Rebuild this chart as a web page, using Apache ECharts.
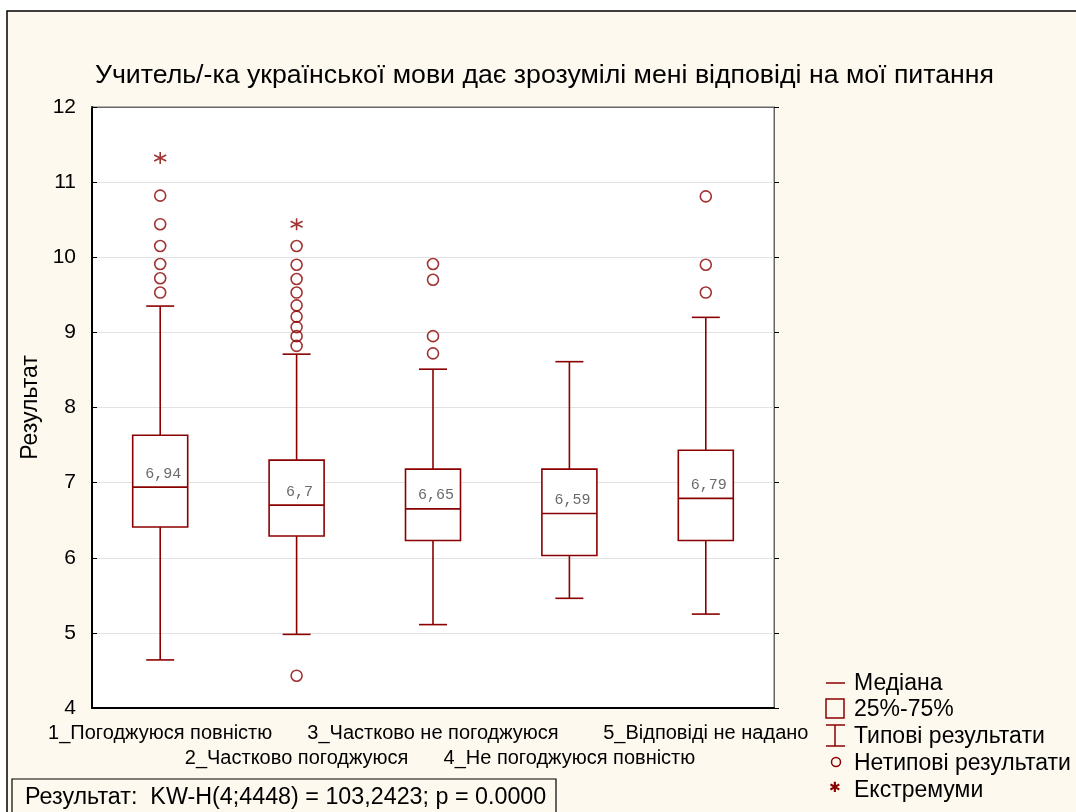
<!DOCTYPE html>
<html>
    <head>
        <meta charset="utf-8">
        <style>
            html, body { margin: 0; padding: 0; background: #fff; }
        </style>
    </head>
    <body>
        <div id="main" style="width:1076px;height:812px"></div>
        <script src="https://cdn.jsdelivr.net/npm/echarts@6/dist/echarts.min.js"></script>
        <script type="text/javascript">
            // categories and box stats
            var categories = ['1_Погоджуюся повністю', '2_Частково погоджуюся', '3_Частково не погоджуюся',
                '4_Не погоджуюся повністю', '5_Відповіді не надано']
            var whiskerLow = [4.64, 4.98, 5.11, 5.46, 5.25]
            var q1 = [6.41, 6.29, 6.23, 6.03, 6.23]
            var medians = [6.94, 6.7, 6.65, 6.59, 6.79]
            var q3 = [7.63, 7.30, 7.18, 7.18, 7.43]
            var whiskerHigh = [9.35, 8.71, 8.51, 8.61, 9.20]
            var outliers = [
                [10.82, 10.44, 10.15, 9.91, 9.72, 9.53],
                [10.15, 9.90, 9.71, 9.53, 9.36, 9.21, 9.07, 8.95, 8.82, 4.43],
                [9.91, 9.70, 8.95, 8.72],
                [],
                [10.81, 9.90, 9.53]
            ]
            var extremes = [[11.32], [10.44], [], [], []]
            var yTicks = [4, 5, 6, 7, 8, 9, 10, 11, 12]

            var red = '#8b0000'
            var cream = '#fef9ef'
            var font = 'Liberation Sans, Arial, sans-serif'
            var starPath = 'path://M0,-6L0,6M-5.2,-3L5.2,3M-5.2,3L5.2,-3'

            var boxData = categories.map(function (c, i) {
                return [i, whiskerLow[i], q1[i], medians[i], q3[i], whiskerHigh[i]]
            })
            var outlierData = []
            outliers.forEach(function (list, i) {
                list.forEach(function (v) { outlierData.push([i, v]) })
            })
            var extremeData = []
            extremes.forEach(function (list, i) {
                list.forEach(function (v) { extremeData.push([i, v]) })
            })

            function renderBox(params, api) {
                var i = api.value(0)
                var lo = api.coord([i, api.value(1)])
                var b1 = api.coord([i, api.value(2)])
                var md = api.coord([i, api.value(3)])
                var b3 = api.coord([i, api.value(4)])
                var hi = api.coord([i, api.value(5)])
                var x = lo[0], hw = 27.5, cw = 14
                var st = { stroke: red, lineWidth: 1.6, fill: null }
                return {
                    type: 'group',
                    children: [
                        { type: 'line', shape: { x1: x, y1: hi[1], x2: x, y2: b3[1] }, style: st },
                        { type: 'line', shape: { x1: x, y1: b1[1], x2: x, y2: lo[1] }, style: st },
                        { type: 'line', shape: { x1: x - cw, y1: hi[1], x2: x + cw, y2: hi[1] }, style: st },
                        { type: 'line', shape: { x1: x - cw, y1: lo[1], x2: x + cw, y2: lo[1] }, style: st },
                        { type: 'rect', shape: { x: x - hw, y: b3[1], width: hw * 2, height: b1[1] - b3[1] },
                            style: { stroke: red, lineWidth: 1.6, fill: '#fff' } },
                        { type: 'line', shape: { x1: x - hw, y1: md[1], x2: x + hw, y2: md[1] }, style: st }
                    ]
                }
            }

            var legendX = 826, legendTextX = 854
            var legendItems = ['Медіана', '25%-75%', 'Типові результати', 'Нетипові результати', 'Екстремуми']
            var legendY = [683, 709, 736, 763, 790]
            var legendGraphics = legendItems.map(function (t, k) {
                return { type: 'text', left: legendTextX, top: legendY[k] - 11,
                    style: { text: t, fill: '#000', font: '23px ' + font } }
            })
            legendGraphics.push(
                { type: 'line', shape: { x1: legendX, y1: 683, x2: 845, y2: 683 }, style: { stroke: red, lineWidth: 1.5 } },
                { type: 'rect', shape: { x: legendX, y: 699, width: 18, height: 19 }, style: { stroke: red, lineWidth: 1.5, fill: null } },
                { type: 'line', shape: { x1: 835, y1: 725, x2: 835, y2: 746 }, style: { stroke: red, lineWidth: 1.5 } },
                { type: 'line', shape: { x1: legendX, y1: 725, x2: 845, y2: 725 }, style: { stroke: red, lineWidth: 1.5 } },
                { type: 'line', shape: { x1: legendX, y1: 746, x2: 845, y2: 746 }, style: { stroke: red, lineWidth: 1.5 } },
                { type: 'circle', shape: { cx: 836, cy: 762, r: 4.5 }, style: { stroke: red, lineWidth: 1.5, fill: null } },
                { type: 'text', left: 829, top: 781, style: { text: '✱', fill: red, font: '14px DejaVu Sans' } }
            )

            var option = {
                backgroundColor: '#fff',
                animation: false,
                graphic: [
                    { type: 'rect', z: -10, shape: { x: 7, y: 11, width: 1200, height: 900 },
                        style: { fill: cream, stroke: '#000', lineWidth: 1.5 } },
                    { type: 'text', left: 95, top: 62, style: {
                        text: 'Учитель/-ка української мови дає зрозумілі мені відповіді на мої питання',
                        fill: '#000', font: '26.7px ' + font } },
                    { type: 'rect', shape: { x: 12, y: 779, width: 544, height: 40 },
                        style: { fill: cream, stroke: '#000', lineWidth: 1.2 } },
                    { type: 'text', left: 25, top: 786, style: {
                        text: 'Результат:  KW-H(4;4448) = 103,2423; p = 0.0000', fill: '#000', font: '23.3px ' + font } }
                ].concat(legendGraphics),
                grid: {
                    left: 92, right: 302, top: 107, bottom: 104,
                    show: true, backgroundColor: '#fff', borderColor: '#666', borderWidth: 1
                },
                xAxis: [{
                    type: 'category',
                    data: categories,
                    boundaryGap: true,
                    axisLine: { lineStyle: { color: '#000', width: 2 } },
                    axisTick: { alignWithLabel: true, inside: true, length: 5, lineStyle: { color: '#000' } },
                    axisLabel: {
                        interval: 0, color: '#000', fontFamily: font, fontSize: 20, margin: 13, lineHeight: 25,
                        formatter: function (v, i) { return i % 2 ? '\n' + v : v }
                    },
                    splitLine: { show: false }
                }, {
                    type: 'category',
                    data: categories,
                    position: 'top',
                    axisLine: { lineStyle: { color: '#666', width: 1 } },
                    axisTick: { alignWithLabel: true, inside: true, length: 5, lineStyle: { color: '#000' } },
                    axisLabel: { show: false }
                }],
                yAxis: [{
                    type: 'value',
                    min: yTicks[0], max: yTicks[yTicks.length - 1], interval: 1,
                    name: 'Результат',
                    nameLocation: 'middle',
                    nameGap: 50,
                    nameTextStyle: { color: '#000', fontFamily: font, fontSize: 23 },
                    axisLine: { show: true, lineStyle: { color: '#000', width: 2 } },
                    axisTick: { show: true, inside: true, length: 5, lineStyle: { color: '#000' } },
                    axisLabel: { color: '#000', fontFamily: font, fontSize: 21, margin: 16 },
                    splitLine: { lineStyle: { color: '#e2e2e2', width: 1 } }
                }, {
                    type: 'value',
                    position: 'right',
                    min: yTicks[0], max: yTicks[yTicks.length - 1], interval: 1,
                    axisLine: { show: true, lineStyle: { color: '#666', width: 1 } },
                    axisTick: { show: true, inside: false, length: 5, lineStyle: { color: '#000' } },
                    axisLabel: { show: false },
                    splitLine: { show: false }
                }],
                series: [{
                    type: 'custom',
                    renderItem: renderBox,
                    data: boxData,
                    encode: { x: 0, y: [1, 2, 3, 4, 5] },
                    z: 3
                }, {
                    type: 'scatter',
                    data: outlierData,
                    symbol: 'circle',
                    symbolSize: 11,
                    itemStyle: { color: 'transparent', borderColor: red, borderWidth: 1.6 },
                    z: 4
                }, {
                    type: 'scatter',
                    data: extremeData,
                    symbol: starPath,
                    symbolSize: 12,
                    itemStyle: { color: 'transparent', borderColor: red, borderWidth: 1.6 },
                    z: 4
                }, {
                    type: 'scatter',
                    data: medians.map(function (m, i) { return [i, m] }),
                    symbolSize: 0,
                    silent: true,
                    label: {
                        show: true, position: 'top', distance: 6, offset: [3, 0],
                        color: '#444', fontFamily: 'Liberation Mono, DejaVu Sans Mono, monospace', fontSize: 15,
                        formatter: function (p) { return String(p.value[1]).replace('.', ',') }
                    },
                    z: 5
                }]
            }

            var mycharts = echarts.init(document.getElementById('main'), null, { renderer: 'canvas' })
            mycharts.setOption(option)
        </script>
    </body>
</html>
